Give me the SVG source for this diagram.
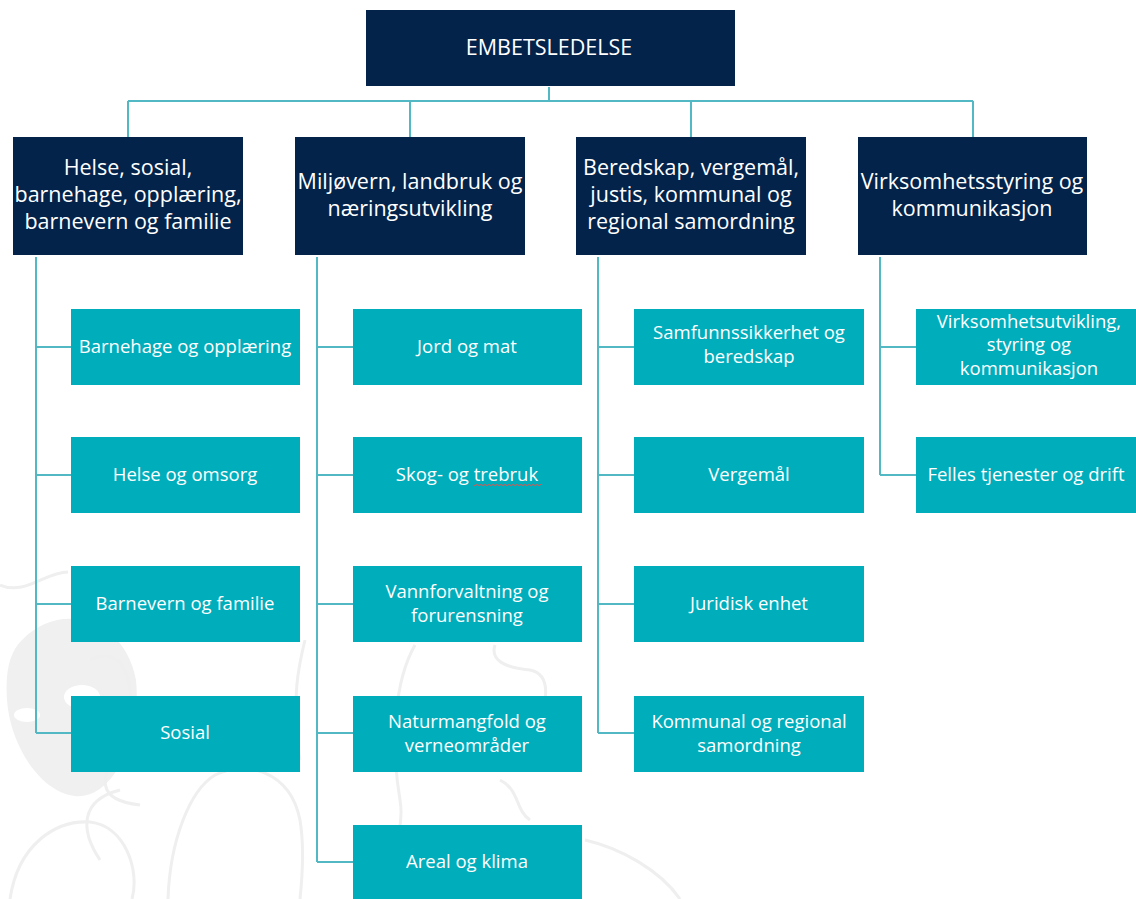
<svg xmlns="http://www.w3.org/2000/svg" width="1136" height="899" viewBox="0 0 1136 899">
<style>
.top{fill:#03234b}
.hd{fill:#03234b}
.ch{fill:#00adbb}
.t{font-family:"Open Sans","Noto Sans","Liberation Sans",sans-serif;fill:#ffffff;text-anchor:middle}
.th{font-size:21.5px}
.tc{font-size:18.5px}
.con{stroke:#52b9c4;stroke-width:2;fill:none}
.wm{stroke:#efefef;stroke-width:3;fill:none}
</style>
<rect x="0" y="0" width="1136" height="899" fill="#ffffff"/>
<g id="watermark">
<path d="M22,640 C60,600 125,618 136,680 C142,740 112,800 75,796 C40,792 10,745 7,700 C5,670 10,652 22,640 Z" fill="#f0f0f0"/>
<ellipse cx="82" cy="697" rx="18" ry="12" fill="#ffffff"/>
<ellipse cx="27" cy="715" rx="13" ry="7" fill="#ffffff"/>
<path class="wm" d="M0,585 C25,596 45,572 68,572"/>
<path class="wm" d="M90,660 C130,640 140,700 120,740 C100,780 95,800 140,805"/>
<path class="wm" d="M10,899 C18,845 55,820 90,822 C125,826 140,870 132,899"/>
<path class="wm" d="M100,860 C80,830 80,800 120,790"/>
<path class="wm" d="M168,899 C170,840 190,790 215,775 C245,760 290,770 300,820 C305,850 302,880 300,899"/>
<path class="wm" d="M415,645 C395,680 390,740 400,800 C405,830 392,850 380,880"/>
<path class="wm" d="M495,645 C490,660 505,668 530,670 C555,675 545,710 535,730"/>
<path class="wm" d="M500,780 C520,790 515,810 530,820"/>
<path class="wm" d="M585,840 C620,848 660,870 680,899"/>
<path class="wm" d="M305,640 C300,660 290,700 300,760"/>
</g>
<g id="connectors">
<path class="con" d="M549,87 V101"/>
<path class="con" d="M128,101 H973" stroke-width="2.5"/>
<path class="con" d="M128,101 V137 M410,101 V137 M691,101 V137 M973,101 V137"/>
<path class="con" d="M36,257 V733 M36,347 H71 M36,475 H71 M36,604 H71 M36,733 H71"/>
<path class="con" d="M317,257 V862 M317,347 H353 M317,475 H353 M317,604 H353 M317,733 H353 M317,862 H353"/>
<path class="con" d="M598,257 V733 M598,347 H634 M598,475 H634 M598,604 H634 M598,733 H634"/>
<path class="con" d="M880,257 V475 M880,347 H916 M880,475 H916"/>
</g>
<g id="n-embetsledelse"><rect class="top" x="366" y="10" width="369" height="76"/><text class="t" x="549" y="55" font-size="21.5">EMBETSLEDELSE</text></g>
<g id="n-helse"><rect class="hd" x="13" y="137" width="230" height="118"/><text class="t th" x="128" y="175">Helse, sosial,</text><text class="t th" x="128" y="202">barnehage, opplæring,</text><text class="t th" x="128" y="229">barnevern og familie</text></g>
<g id="n-miljo"><rect class="hd" x="295" y="137" width="230" height="118"/><text class="t th" x="410" y="189">Miljøvern, landbruk og</text><text class="t th" x="410" y="216">næringsutvikling</text></g>
<g id="n-beredskap"><rect class="hd" x="576" y="137" width="230" height="118"/><text class="t th" x="691" y="175">Beredskap, vergemål,</text><text class="t th" x="691" y="202">justis, kommunal og</text><text class="t th" x="691" y="229">regional samordning</text></g>
<g id="n-virksomhet"><rect class="hd" x="858" y="137" width="229" height="118"/><text class="t th" x="972" y="189">Virksomhetsstyring og</text><text class="t th" x="972" y="216">kommunikasjon</text></g>
<g id="c1-1"><rect class="ch" x="71" y="309" width="229" height="76"/><text class="t tc" x="185" y="353">Barnehage og opplæring</text></g>
<g id="c1-2"><rect class="ch" x="71" y="437" width="229" height="76"/><text class="t tc" x="185" y="481">Helse og omsorg</text></g>
<g id="c1-3"><rect class="ch" x="71" y="566" width="229" height="76"/><text class="t tc" x="185" y="610">Barnevern og familie</text></g>
<g id="c1-4"><rect class="ch" x="71" y="696" width="229" height="76"/><text class="t tc" x="185" y="739">Sosial</text></g>
<g id="c2-1"><rect class="ch" x="353" y="309" width="229" height="76"/><text class="t tc" x="467" y="353">Jord og mat</text></g>
<g id="c2-2"><rect class="ch" x="353" y="437" width="229" height="76"/><text class="t tc" x="467" y="481">Skog- og trebruk</text><path d="M474,486 l2,-2 l2,2 l2,-2 l2,2 l2,-2 l2,2 l2,-2 l2,2 l2,-2 l2,2 l2,-2 l2,2 l2,-2 l2,2 l2,-2 l2,2 l2,-2 l2,2 l2,-2 l2,2 l2,-2 l2,2 l2,-2 l2,2 l2,-2 l2,2 l2,-2 l2,2 l2,-2 l2,2 l2,-2 l2,2 l2,-2 l2,2" stroke="#d9534f" stroke-width="1" fill="none"/></g>
<g id="c2-3"><rect class="ch" x="353" y="566" width="229" height="76"/><text class="t tc" x="467" y="598">Vannforvaltning og</text><text class="t tc" x="467" y="622">forurensning</text></g>
<g id="c2-4"><rect class="ch" x="353" y="696" width="229" height="76"/><text class="t tc" x="467" y="728">Naturmangfold og</text><text class="t tc" x="467" y="752">verneområder</text></g>
<g id="c2-5"><rect class="ch" x="353" y="825" width="229" height="80"/><text class="t tc" x="467" y="868">Areal og klima</text></g>
<g id="c3-1"><rect class="ch" x="634" y="309" width="230" height="76"/><text class="t tc" x="749" y="339">Samfunnssikkerhet og</text><text class="t tc" x="749" y="363">beredskap</text></g>
<g id="c3-2"><rect class="ch" x="634" y="437" width="230" height="76"/><text class="t tc" x="749" y="481">Vergemål</text></g>
<g id="c3-3"><rect class="ch" x="634" y="566" width="230" height="76"/><text class="t tc" x="749" y="610">Juridisk enhet</text></g>
<g id="c3-4"><rect class="ch" x="634" y="696" width="230" height="76"/><text class="t tc" x="749" y="728">Kommunal og regional</text><text class="t tc" x="749" y="752">samordning</text></g>
<g id="c4-1"><rect class="ch" x="916" y="309" width="230" height="76"/><text class="t tc" x="1029" y="328">Virksomhetsutvikling,</text><text class="t tc" x="1029" y="351">styring og</text><text class="t tc" x="1029" y="375">kommunikasjon</text></g>
<g id="c4-2"><rect class="ch" x="916" y="437" width="230" height="76"/><text class="t tc" x="1026" y="481">Felles tjenester og drift</text></g>
</svg>
